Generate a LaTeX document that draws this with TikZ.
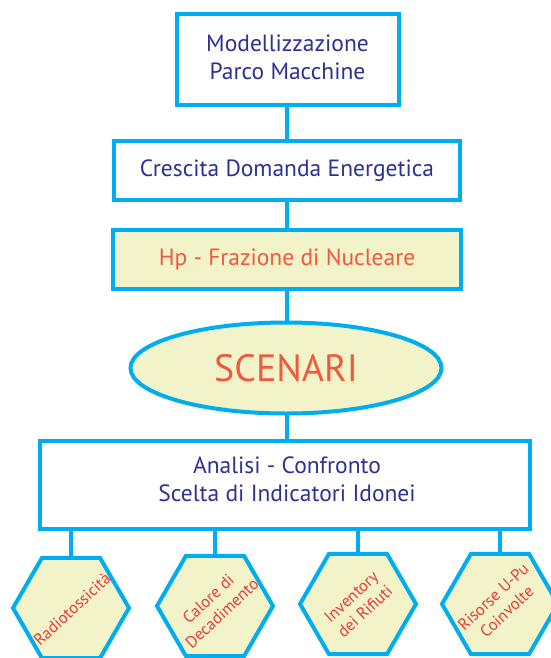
\documentclass[tikz,border=0pt]{standalone}
\usepackage{fontspec}
\setmainfont{PT Sans}
\usetikzlibrary{shapes.geometric}
\definecolor{cy}{HTML}{00AEEF}
\definecolor{pale}{HTML}{F3F3C9}
\definecolor{tblue}{HTML}{2E3192}
\definecolor{torange}{HTML}{F05A3C}
\definecolor{tred}{HTML}{E63C3C}
\begin{document}
\begin{tikzpicture}[x=1pt,y=-1pt,
  box/.style={draw=cy, line width=4pt, rectangle, inner sep=0pt, align=center,
    font=\fontsize{23.5}{28}\selectfont, text=tblue, fill=white},
  fillbox/.style={box, fill=pale, text=torange},
  ell/.style={draw=cy, line width=4pt, ellipse, fill=pale, inner sep=0pt,
    minimum width=311pt, minimum height=91pt, text=torange, font=\fontsize{38}{42}\selectfont},
  hexa/.style={draw=cy, line width=4pt, fill=pale, regular polygon, regular polygon sides=6,
    minimum size=116pt, inner sep=0pt},
  hextext/.style={text=tred, font=\fontsize{16.5}{20}\selectfont, rotate=43, align=center, inner sep=0pt},
  conn/.style={draw=cy, line width=3.5pt}]
\useasboundingbox (0,0) rectangle (551,658);
\fill[white] (0,0) rectangle (551,658);
% connectors first (behind nodes)
\coordinate (c1) at (287,60);
\coordinate (c5) at (287,485);
\draw[conn] (c1) -- (c5);
\foreach \i/\x/\y in {1/71/608, 2/215/606, 3/358/604, 4/500/604}{
  \draw[conn] (\x,485) -- (\x,\y);
}
\node[box, minimum width=222pt, minimum height=91pt] (b1) at (287.5,60) {};
\node[text=tblue, align=center, font=\fontsize{23.5}{28}\selectfont] (t0) at (287.5,57) {Modellizzazione\\Parco Macchine};
\node[box, minimum width=346pt, minimum height=59pt] (b2) at (287,170.5) {Crescita Domanda Energetica};
\node[fillbox, minimum width=348pt, minimum height=59pt] (b3) at (287,259.5) {Hp - Frazione di Nucleare};
\node[ell] (e) at (286,368) {SCENARI};
\node[box, minimum width=490pt, minimum height=88pt] (b5) at (285,485) {};
\node[text=tblue, align=center, font=\fontsize{23.5}{28}\selectfont] (t5) at (287,479) {Analisi - Confronto\\Scelta di Indicatori Idonei};
\node[hexa] (h1) at (71,608) {};
\node[hexa] (h2) at (215,606) {};
\node[hexa] (h3) at (358,604) {};
\node[hexa] (h4) at (500,604) {};
\node[hextext] (t1) at (72,609) {Radiotossicità};
\node[hextext] (t2) at (h2.center) {Calore di\\Decadimento};
\node[hextext] (t3) at (h3.center) {Inventory\\dei Rifiuti};
\node[hextext] (t4) at (h4.center) {Risorse U-Pu\\Coinvolte};
\end{tikzpicture}
\end{document}
